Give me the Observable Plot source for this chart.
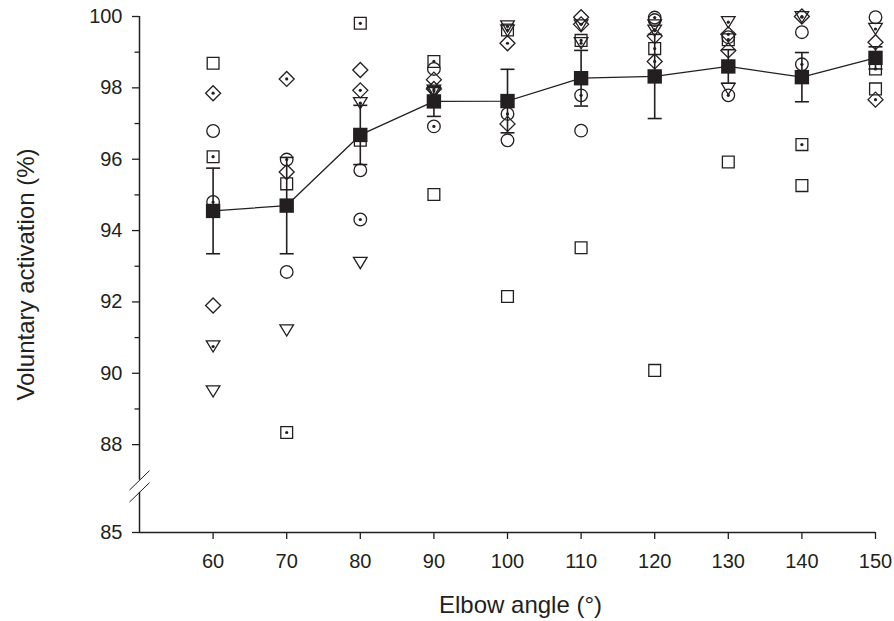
<!DOCTYPE html>
<html>
<head>
<meta charset="utf-8">
<script src="https://cdn.jsdelivr.net/npm/d3@7"></script>
<script src="https://cdn.jsdelivr.net/npm/@observablehq/plot@0.6"></script>
<style>
  html, body { margin: 0; padding: 0; background: #fff; }
  #chart { width: 894px; height: 621px; }
</style>
</head>
<body>
<div id="chart"></div>
<script>
// ---------- data ----------
const angles = [60, 70, 80, 90, 100, 110, 120, 130, 140, 150];

// group mean and error (filled squares)
const meanVA = [94.55, 94.70, 96.68, 97.62, 97.63, 98.27, 98.32, 98.60, 98.30, 98.84];
const errVA  = [1.20, 1.35, 0.83, 0.42, 0.89, 0.78, 1.18, 0.47, 0.69, 0.31];

// individual subjects (null = hidden / not visible)
const openSquare     = [98.69, 95.31, 96.53, 95.01, 92.15, 93.52, 90.08, 95.92, 95.26, 97.97];
const dottedSquare   = [96.07, 88.34, 99.81, 98.74, 99.62, 99.33, 99.10, 99.35, 96.41, 98.53];
const openCircle     = [96.79, 92.84, 95.69, 98.53, 96.53, 96.80, 99.90, 99.42, 99.56, 99.98];
const dottedCircle   = [94.80, 95.99, 94.31, 96.92, 97.27, 97.79, 99.97, 97.79, 98.66, null];
const openDiamond    = [91.90, 95.64, 98.50, 98.23, 96.99, 99.98, 99.45, 99.05, null, 99.28];
const dottedDiamond  = [97.85, 98.25, 97.93, 97.97, 99.25, 99.78, 98.74, 99.50, 100.00, 97.67];
const openTriangle   = [89.49, 91.20, 93.09, 97.85, 99.60, 99.75, 99.75, 97.97, null, null];
const dottedTriangle = [90.75, null, 97.57, 97.92, 99.72, 99.25, 99.60, 99.84, 99.98, 99.65];

// axes
const xDomain = [50, 150];
const xTicks = [60, 70, 80, 90, 100, 110, 120, 130, 140, 150];
const yTicksMajor = [85, 88, 90, 92, 94, 96, 98, 100];
const yTicksMinor = [89, 91, 93, 95, 97, 99];
const yBreakAt = 88;              // values below this are compressed
const yBreakShrink = 0.821;       // compression factor below the break
const yBreak = [86.37, 86.78];    // where the axis is cut (between 85 and 88)
const xTitle = "Elbow angle (°)";
const yTitle = "Voluntary activation (%)";

// ---------- build ----------
const ink = "#231f20";
// broken-axis mapping: identity above the break, compressed below it
const disp = v => v >= yBreakAt ? v : yBreakAt - (yBreakAt - v) * yBreakShrink;
const undisp = u => u >= yBreakAt ? u : yBreakAt - (yBreakAt - u) / yBreakShrink;

const subjects = [
  {values: openSquare, shape: "square", dotted: false},
  {values: dottedSquare, shape: "square", dotted: true},
  {values: openCircle, shape: "circle", dotted: false},
  {values: dottedCircle, shape: "circle", dotted: true},
  {values: openDiamond, shape: "diamond", dotted: false},
  {values: dottedDiamond, shape: "diamond", dotted: true},
  {values: openTriangle, shape: "triangle", dotted: false},
  {values: dottedTriangle, shape: "triangle", dotted: true}
];
const points = subjects.flatMap(s =>
  angles.map((a, i) => ({angle: a, va: s.values[i], shape: s.shape, dotted: s.dotted}))
        .filter(d => d.va != null));
const meanRows = angles.map((a, i) => ({angle: a, m: meanVA[i], e: errVA[i]}));

// custom symbols
const symSquare = {draw(c) { c.rect(-5.9, -5.9, 11.8, 11.8); }};
const symDiamond = {draw(c) { c.moveTo(0, -7.5); c.lineTo(7.5, 0); c.lineTo(0, 7.5); c.lineTo(-7.5, 0); c.closePath(); }};
const symTriDown = {draw(c) { c.moveTo(-6.8, -5.6); c.lineTo(6.8, -5.6); c.lineTo(0, 5.6); c.closePath(); }};
const symMean = {draw(c) { c.rect(-7.2, -7.2, 14.4, 14.4); }};
const symCap = {draw(c) { c.moveTo(-7, 0); c.lineTo(7, 0); }};
const symSlash = {draw(c) { c.moveTo(-10, 9.7); c.lineTo(10, -9.7); }};

const byShape = s => points.filter(d => d.shape === s);
const common = {x: "angle", y: d => disp(d.va), stroke: ink, fill: "none", strokeWidth: 1.3};

const chart = Plot.plot({
  width: 894,
  height: 621,
  marginLeft: 139,
  marginRight: 19,
  marginTop: 16,
  marginBottom: 89,
  style: {fontFamily: "'Liberation Sans', Arial, Helvetica, sans-serif", fontSize: "20px", color: ink, background: "#fff", overflow: "visible"},
  x: {domain: xDomain},
  y: {domain: [disp(85), 100]},
  marks: [
    // axes
    Plot.ruleY([disp(85)], {stroke: ink, strokeWidth: 1.5}),
    Plot.ruleX([{y1: yBreak[1], y2: 100}, {y1: 85, y2: yBreak[0]}],
      {x: () => xDomain[0], y1: d => disp(d.y1), y2: d => disp(d.y2), stroke: ink, strokeWidth: 1.5}),
    Plot.dot(yBreak, {x: () => xDomain[0], y: d => disp(d), symbol: symSlash, stroke: ink, fill: "none", strokeWidth: 1}),
    Plot.axisX({ticks: xTicks, tickSize: 7, tickPadding: 14, fontSize: 20, label: null, strokeWidth: 1.3}),
    Plot.axisY({ticks: yTicksMajor.map(disp), tickFormat: u => String(Math.round(undisp(u))),
      tickSize: 7, tickPadding: 10, fontSize: 20, label: null, strokeWidth: 1.3}),
    Plot.axisY({ticks: yTicksMinor.map(disp), tickSize: 4.5, text: null, label: null, strokeWidth: 1.3}),
    // titles
    Plot.text([xTitle], {text: d => d, frameAnchor: "bottom", lineAnchor: "bottom", dy: 80, dx: 13, fontSize: 24, fill: ink}),
    Plot.text([yTitle], {text: d => d, frameAnchor: "left", textAnchor: "middle", rotate: -90, lineAnchor: "middle", dx: -113, fontSize: 24, fill: ink}),
    // mean line
    Plot.line(meanRows, {x: "angle", y: d => disp(d.m), stroke: ink, strokeWidth: 1.3}),
    // error bars
    Plot.ruleX(meanRows, {x: "angle", y1: d => disp(d.m - d.e), y2: d => disp(d.m + d.e), stroke: ink, strokeWidth: 1.6}),
    Plot.dot(meanRows, {x: "angle", y: d => disp(d.m + d.e), symbol: symCap, stroke: ink, fill: "none", strokeWidth: 1.6}),
    Plot.dot(meanRows, {x: "angle", y: d => disp(d.m - d.e), symbol: symCap, stroke: ink, fill: "none", strokeWidth: 1.6}),
    // individuals
    Plot.dot(byShape("square"), {...common, symbol: symSquare}),
    Plot.dot(byShape("circle"), {...common, symbol: "circle", r: 6.3}),
    Plot.dot(byShape("diamond"), {...common, symbol: symDiamond}),
    Plot.dot(byShape("triangle"), {...common, symbol: symTriDown}),
    Plot.dot(points.filter(d => d.dotted), {x: "angle", y: d => disp(d.va), r: 1.6, fill: ink, stroke: "none"}),
    // means
    Plot.dot(meanRows, {x: "angle", y: d => disp(d.m), symbol: symMean, fill: ink, stroke: "none"})
  ]
});
document.getElementById("chart").appendChild(chart);
</script>
</body>
</html>
